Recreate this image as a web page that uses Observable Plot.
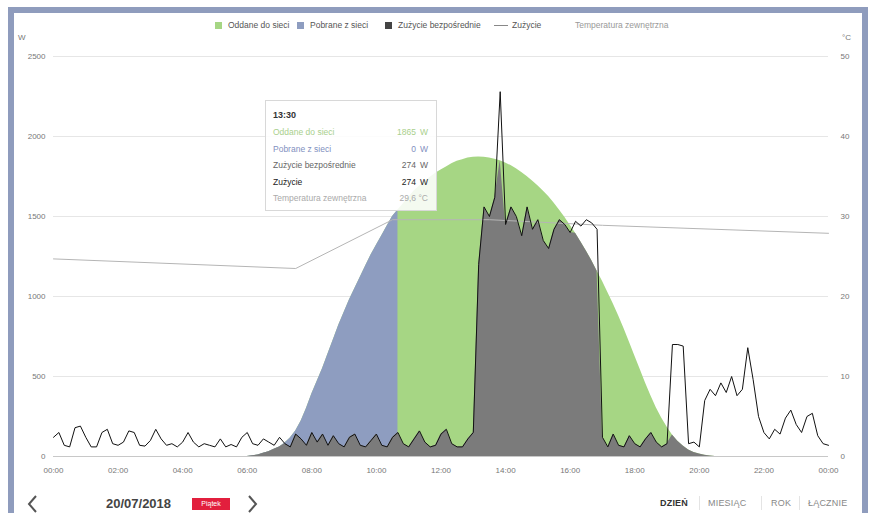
<!DOCTYPE html>
<html><head><meta charset="utf-8">
<script src="https://cdn.jsdelivr.net/npm/d3@7"></script>
<script src="https://cdn.jsdelivr.net/npm/@observablehq/plot@0.6"></script>
<style>
body{margin:0;width:870px;height:513px;overflow:hidden;background:#fff;font-family:"Liberation Sans",Arial,sans-serif;position:relative;}
#frame{position:absolute;left:8px;top:7px;width:848px;height:530px;border:6px solid #8f9cbd;border-bottom:none;}
#chart{position:absolute;left:0;top:0;}
.abs{position:absolute;white-space:nowrap;}
.leg{font-size:8.5px;color:#555;top:20px;line-height:10px;}
.sq{position:absolute;width:7px;height:7px;top:21.5px;}
#tip{position:absolute;left:265px;top:100px;width:172px;height:111px;background:rgba(255,255,255,0.88);border:1px solid #d8d8d8;box-sizing:border-box;font-size:8.5px;}
#tip .h{position:absolute;left:7px;top:9px;font-weight:bold;color:#333;font-size:9px;}
#tip .r{position:absolute;left:7px;right:8px;height:11px;}
#tip .r span.v{position:absolute;right:12px;}
#tip .r span.u{position:absolute;right:0;}
.nav{font-size:9px;top:498px;color:#888;letter-spacing:0.2px;}
</style></head>
<body>
<div id="frame"></div>
<div id="chart"></div>
<div class="abs" style="left:18px;top:33px;font-size:8px;color:#777">W</div>
<div class="abs" style="left:842px;top:33px;font-size:8px;color:#777">°C</div>
<div id="legend"></div>
<div id="tip"></div>
<svg class="abs" style="left:26px;top:494px" width="14" height="20"><polyline points="10,2 3,10 10,18" fill="none" stroke="#555" stroke-width="2"/></svg>
<div class="abs" style="left:106px;top:496px;font-size:13px;font-weight:bold;color:#444">20/07/2018</div>
<div class="abs" style="left:192px;top:498px;width:38px;height:12px;background:#e21f3d;color:#fff;font-size:7px;line-height:12px;text-align:center">Piątek</div>
<svg class="abs" style="left:245px;top:494px" width="14" height="20"><polyline points="4,2 11,10 4,18" fill="none" stroke="#555" stroke-width="2"/></svg>
<div class="abs nav" style="left:660px;color:#333;font-weight:bold">DZIEŃ</div>
<div class="abs" style="left:699px;top:496px;width:1px;height:14px;background:#e4e4e4"></div>
<div class="abs nav" style="left:708px">MIESIĄC</div>
<div class="abs" style="left:761px;top:496px;width:1px;height:14px;background:#e4e4e4"></div>
<div class="abs nav" style="left:771px">ROK</div>
<div class="abs" style="left:799px;top:496px;width:1px;height:14px;background:#e4e4e4"></div>
<div class="abs nav" style="left:808px">ŁĄCZNIE</div>
<script>
// ---- data ----
const seriesNames = ["Oddane do sieci", "Pobrane z sieci", "Zużycie bezpośrednie", "Zużycie", "Temperatura zewnętrzna"];
const xTickLabels = ["00:00","02:00","04:00","06:00","08:00","10:00","12:00","14:00","16:00","18:00","20:00","22:00","00:00"];
const yTickValues = [0, 500, 1000, 1500, 2000, 2500];
const tempTickLabels = ["0","10","20","30","40","50"];
const stepMinutes = 10;
// consumption (W), every 10 min from 00:00 to 24:00
const consumption = [
 120,150,70,60,180,190, 120,60,60,150,170,80, 70,90,160,150,70,65, 100,170,110,70,80,60,
 90,150,90,60,80,70, 60,110,60,75,60,120, 150,80,70,110,90,70, 120,80,60,140,110,70,
 150,90,140,70,130,80, 60,120,140,70,60,100, 140,70,60,120,150,80, 60,110,160,90,60,70,
 140,170,80,60,60,110, 150,1200,1560,1500,1620,2280, 1450,1560,1500,1380,1560,1420,
 1480,1350,1300,1420,1480,1450, 1400,1470,1440,1480,1460,1420, 120,60,140,70,60,130,
 80,60,110,150,90,60, 80,700,700,690,80,90, 60,350,420,380,460,400, 500,380,420,680,480,250,
 150,110,170,140,240,290, 200,150,250,270,130,80, 70
];
// PV production (W), every 10 min from 06:00 to 20:30
const productionStart = 6;
const production = [
 0,5,10,20,30,45, 60,85,115,160,220,300, 390,470,550,640,730,820, 900,980,1050,1120,1190,1260,
 1320,1380,1440,1500,1540,1580, 1620,1660,1690,1720,1745,1770, 1790,1810,1830,1845,1855,1865,
 1870,1872,1870,1865,1858,1848, 1835,1818,1798,1775,1750,1722, 1692,1660,1625,1585,1540,1495,
 1445,1395,1340,1285,1225,1160, 1095,1025,955,880,800,715, 630,545,460,380,305,240,
 185,135,95,65,40,25, 15,8,3,0
];
const gridEnd = 10 + 40/60; // end of the "Pobrane z sieci" segment (10:40)
const tempHours = [0, 7.5, 10.5, 13.5, 17, 24];
const tempValues = [24.7, 23.5, 29.6, 29.6, 28.9, 27.9];
// tooltip values
const tipTime = "13:30";
const tipValues = ["1865", "0", "274", "274", "29,6"];
const tipUnits = ["W", "W", "W", "W", "°C"];

const colors = {green:"#a6d684", blue:"#8e9dc0", dark:"#7b7b7b", line:"#111", temp:"#b5b5b5"};
const tempScale = 2500 / 50;

// ---- tables ----
const cons = consumption.map((v, i) => ({t: i * stepMinutes / 60, v}));
const prod = production.map((v, i) => ({t: productionStart + i * stepMinutes / 60, v}));
const prodMap = new Map(prod.map(d => [Math.round(d.t * 60), d.v]));
const self = cons.filter(d => prodMap.has(Math.round(d.t * 60)))
  .map(d => ({t: d.t, v: Math.min(d.v, prodMap.get(Math.round(d.t * 60)))}));
const temp = tempHours.map((t, i) => ({t, v: tempValues[i] * tempScale}));

const chart = Plot.plot({
  width: 870, height: 480,
  marginLeft: 53, marginRight: 42, marginTop: 56, marginBottom: 24,
  style: {fontFamily: "Liberation Sans, Arial, sans-serif", fontSize: "8px", color: "#777", background: "transparent"},
  x: {domain: [0, 24], label: null},
  y: {domain: [0, 2500], label: null},
  marks: [
    Plot.gridY(yTickValues, {stroke: "#e6e6e6", strokeOpacity: 1}),
    Plot.areaY(prod, {x: "t", y: "v", fill: colors.green, curve: "linear"}),
    Plot.areaY(prod.filter(d => d.t <= gridEnd + 1e-6), {x: "t", y: "v", fill: colors.blue}),
    Plot.areaY(self, {x: "t", y: "v", fill: colors.dark}),
    Plot.lineY(temp, {x: "t", y: "v", stroke: colors.temp, strokeWidth: 1}),
    Plot.lineY(cons, {x: "t", y: "v", stroke: colors.line, strokeWidth: 1}),
    Plot.ruleY([0], {stroke: "#c8c8c8"}),
    Plot.axisX(d3.range(0, 25, 2), {tickSize: 0, tickPadding: 11, tickFormat: (d, i) => xTickLabels[i], fill: "#777", label: null}),
    Plot.axisY(yTickValues, {anchor: "left", tickSize: 0, tickPadding: 8, tickFormat: d => String(d), label: null, fill: "#777"}),
    Plot.axisY(yTickValues, {anchor: "right", tickSize: 0, tickPadding: 12, tickFormat: (d, i) => tempTickLabels[i], label: null, fill: "#777"})
  ]
});
document.getElementById("chart").appendChild(chart);

// legend
const legend = document.getElementById("legend");
const legItems = [
  {sq: colors.green, sqx: 215, tx: 228},
  {sq: colors.blue, sqx: 297, tx: 310},
  {sq: "#444", sqx: 385, tx: 398},
  {line: "#888", lx: 494, tx: 512},
  {tx: 575, faded: true}
];
legItems.forEach((it, i) => {
  if (it.sq) { const s = document.createElement("div"); s.className = "sq"; s.style.left = it.sqx + "px"; s.style.background = it.sq; legend.appendChild(s); }
  if (it.line) { const l = document.createElement("div"); l.className = "abs"; Object.assign(l.style, {left: it.lx + "px", top: "25px", width: "14px", height: "1px", background: it.line}); legend.appendChild(l); }
  const t = document.createElement("div"); t.className = "abs leg"; t.style.left = it.tx + "px";
  t.textContent = seriesNames[i]; if (it.faded) t.style.color = "#999";
  legend.appendChild(t);
});

// tooltip
const tip = document.getElementById("tip");
const h = document.createElement("div"); h.className = "h"; h.textContent = tipTime; tip.appendChild(h);
const rowColors = ["#a9cf8d", "#7f90c0", "#666", "#222", "#aaa"];
seriesNames.forEach((n, i) => {
  const r = document.createElement("div"); r.className = "r"; r.style.top = (26 + i * 16.5) + "px"; r.style.color = rowColors[i];
  r.innerHTML = `<span>${n}</span><span class="v">${tipValues[i]}</span><span class="u">${tipUnits[i]}</span>`;
  tip.appendChild(r);
});
</script>
</body></html>
